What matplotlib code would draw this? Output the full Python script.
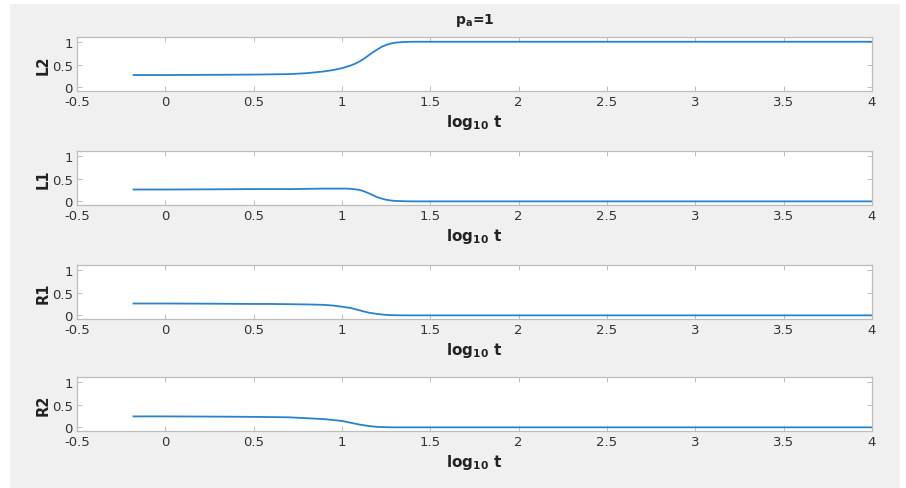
import matplotlib
matplotlib.use("Agg")
import matplotlib.pyplot as plt
from matplotlib.patches import Rectangle

# values (x = log10 t)
x = [-0.18, 0.0, 0.3, 0.5, 0.6, 0.7, 0.8, 0.9, 0.95, 1.0, 1.025, 1.05, 1.075,
     1.1, 1.125, 1.15, 1.175, 1.2, 1.225, 1.25, 1.275, 1.3, 1.35, 1.4, 1.5,
     2.0, 3.0, 4.0]
L2 = [0.27, 0.27, 0.275, 0.28, 0.285, 0.29, 0.31, 0.35, 0.38, 0.42, 0.45, 0.48,
      0.52, 0.57, 0.63, 0.70, 0.77, 0.83, 0.89, 0.93, 0.96, 0.98, 0.995, 1.0,
      1.0, 1.0, 1.0, 1.0]
L1 = [0.26, 0.26, 0.265, 0.27, 0.27, 0.27, 0.275, 0.28, 0.28, 0.28, 0.28, 0.275,
      0.265, 0.25, 0.22, 0.18, 0.135, 0.09, 0.06, 0.035, 0.02, 0.01, 0.003, 0.0,
      0.0, 0.0, 0.0, 0.0]
R1 = [0.26, 0.26, 0.255, 0.25, 0.25, 0.245, 0.24, 0.23, 0.215, 0.19, 0.175, 0.16,
      0.135, 0.11, 0.085, 0.06, 0.045, 0.03, 0.02, 0.01, 0.005, 0.003, 0.0, 0.0,
      0.0, 0.0, 0.0, 0.0]
R2 = [0.24, 0.24, 0.235, 0.23, 0.225, 0.22, 0.20, 0.18, 0.16, 0.14, 0.12, 0.10,
      0.08, 0.06, 0.045, 0.03, 0.02, 0.01, 0.006, 0.003, 0.001, 0.0, 0.0, 0.0,
      0.0, 0.0, 0.0, 0.0]

panel_names = ["L2", "L1", "R1", "R2"]
panel_data = [L2, L1, R1, R2]
xticks = [-0.5, 0, 0.5, 1, 1.5, 2, 2.5, 3, 3.5, 4]
xticklabels = ["-0.5", "0", "0.5", "1", "1.5", "2", "2.5", "3", "3.5", "4"]
yticks = [0, 0.5, 1]
yticklabels = ["0", "0.5", "1"]

LINE = "#2a82cc"
TXT = "#333333"
EDGE = "#bdbdbd"

plt.rcParams["font.family"] = ["DejaVu Sans"]

fig = plt.figure(figsize=(9.06, 4.89), dpi=100)
fig.patch.set_facecolor("white")
fig.patches.append(Rectangle((10 / 906, 0), 890 / 906, 1 - 5 / 489,
                             transform=fig.transFigure, facecolor="#f0f0f0",
                             edgecolor="none", zorder=-10))

left, width, height = 0.085, 0.8775, 0.110
bottoms = [0.8119, 0.5787, 0.3456, 0.1166]

for i, (name, y) in enumerate(zip(panel_names, panel_data)):
    ax = fig.add_axes([left, bottoms[i], width, height])
    ax.plot(x, y, color=LINE, lw=1.3)
    ax.set_xlim(-0.5, 4)
    ax.set_ylim(-0.08, 1.1)
    ax.set_xticks(xticks)
    ax.set_xticklabels(xticklabels)
    ax.set_yticks(yticks)
    ax.set_yticklabels(yticklabels)
    ax.tick_params(direction="in", top=True, right=True, length=3.5, width=0.7,
                   color=EDGE, labelcolor=TXT, labelsize=9.5, pad=3)
    for sp in ax.spines.values():
        sp.set_color(EDGE)
        sp.set_linewidth(0.9)
    ax.set_ylabel(name, fontsize=10.5, fontweight="bold", color="#222222",
                  labelpad=1)
    ax.set_xlabel(r"$\mathbf{log_{10}}$ t", fontsize=11, fontweight="bold",
                  color="#222222", labelpad=3)
    if i == 0:
        ax.set_title(r"$\mathbf{p_a}$=1", fontsize=10, fontweight="bold",
                     color="#222222", pad=10)

fig.savefig("out.png", dpi=100, facecolor=fig.get_facecolor())
